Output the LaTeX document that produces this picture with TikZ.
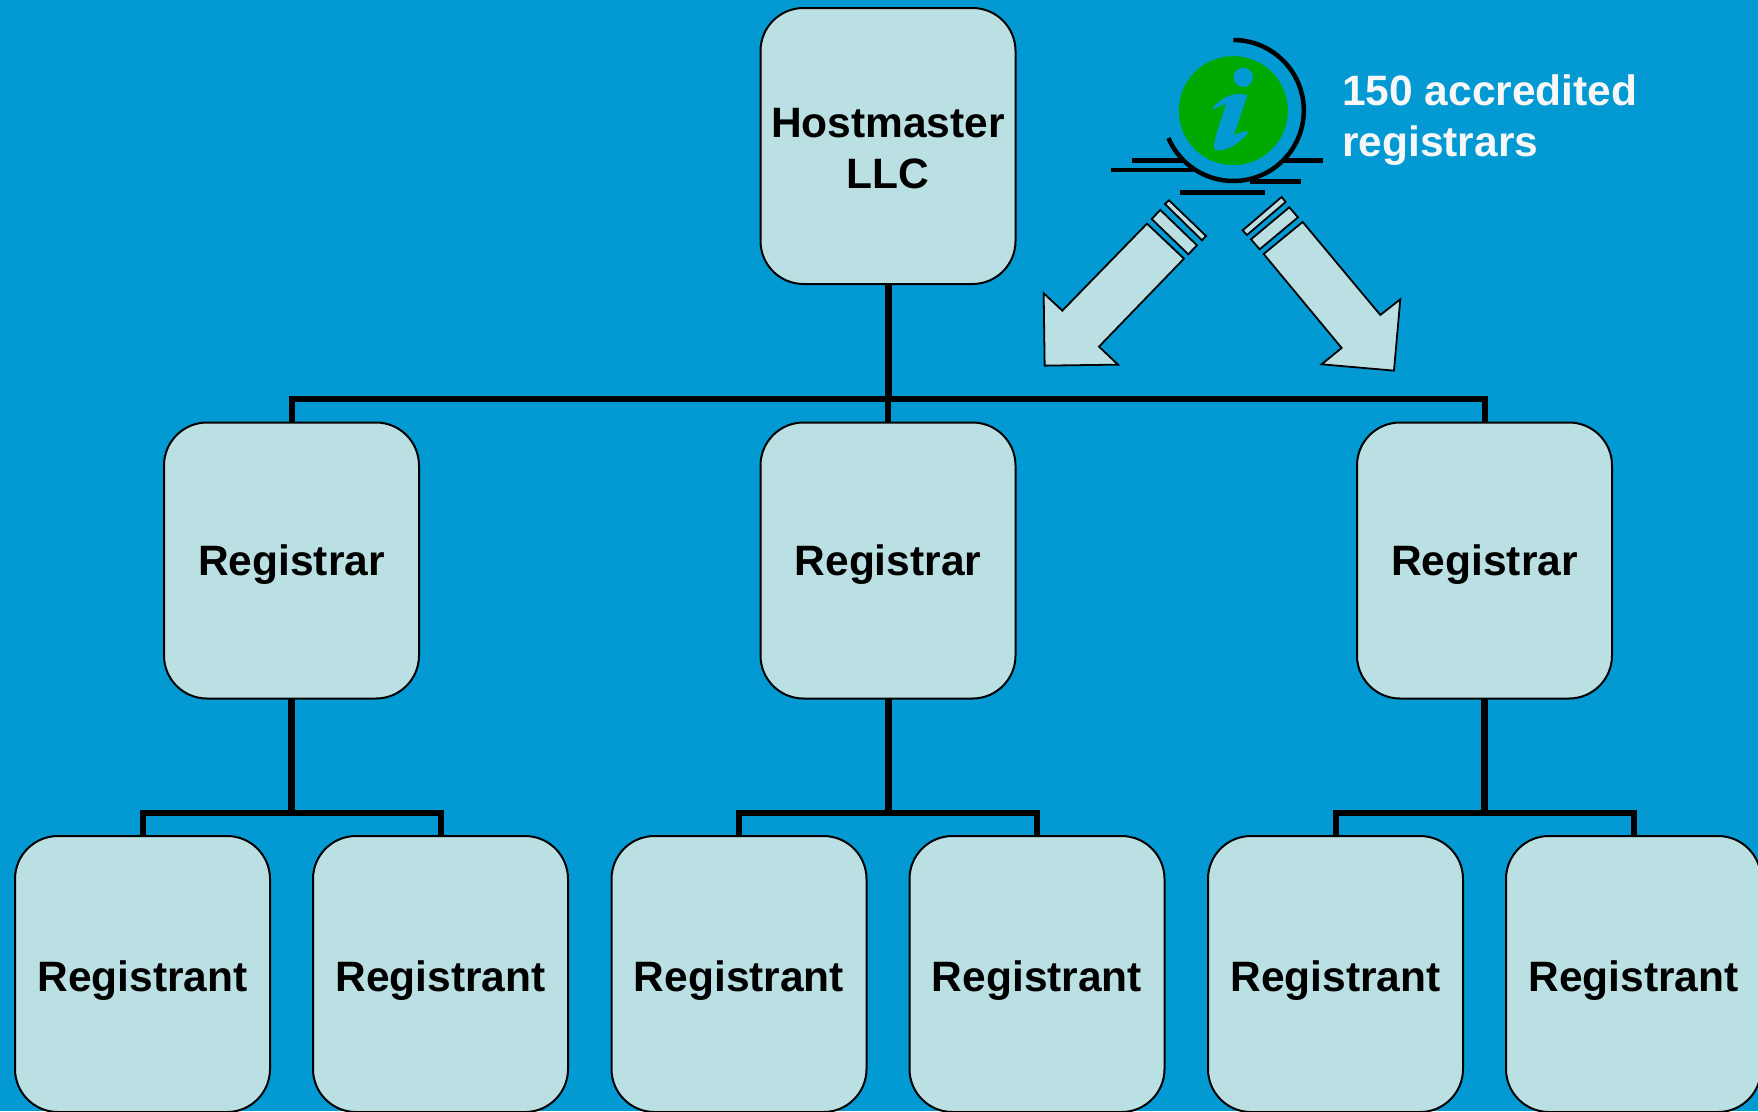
\documentclass[tikz,border=0pt]{standalone}
\usepackage{fontspec}
\setmainfont{Liberation Sans}
\usetikzlibrary{%
	positioning,
	calc
}
\definecolor{slide}{HTML}{039AD3}
\definecolor{boxfill}{HTML}{BBE0E3}
\definecolor{infogreen}{HTML}{00A900}

\begin{document}
\begin{tikzpicture}[
		x=1pt,y=-1pt,
		RBox/.style={draw=black,line width=2pt,fill=boxfill,rounded corners=43pt,minimum width=255pt,minimum height=276pt,inner sep=0pt,outer sep=0pt,align=center,text height=30pt,text depth=0pt,font=\bfseries\fontsize{42.5}{51}\selectfont},
		Trunk/.style={draw=black,line width=7pt},
		Bus/.style={draw=black,line width=6pt},
		Block/.style={draw=black,line width=1.8pt,fill=boxfill,line join=miter},
		Ring/.style={draw=black,line width=4.5pt}
	]
	
	\useasboundingbox (0,0) rectangle (1758,1111);
	\clip (0,0) rectangle (1758,1111);
	\fill[slide] (0,0) rectangle (1758,1111);
	
	% tree
	\node(Root) [RBox, text height=84pt] at (888,146) {Hostmaster\\LLC};
	\node(Registrar2) [RBox, below=138.5pt of Root] {Registrar};
	\node(Registrar1) [RBox, left=341.5pt of Registrar2] {Registrar};
	\node(Registrar3) [RBox, right=341.5pt of Registrar2] {Registrar};
	
	\foreach \r in {1,2,3}{
		\node(Registrant\r a) [RBox, text height=34pt, below=137.5pt of Registrar\r, xshift=-149pt] {Registrant};
		\node(Registrant\r b) [RBox, text height=34pt, right=43pt of Registrant\r a] {Registrant};
		\draw[Trunk] (Registrar\r.south) -- ++(0,114.5) coordinate (bus\r);
		\draw[Bus] (Registrant\r a.north) |- (bus\r) -| (Registrant\r b.north);
	}
	
	\draw[Trunk] (Root.south) -- ++(0,114.5) coordinate (top);
	\draw[Bus] (top) -- (Registrar2.north);
	\draw[Bus] (Registrar1.north) |- (top) -| (Registrar3.north);
	
	% info icon
	\node(Note) [anchor=base west, align=left, text=white!97!black, inner sep=0pt, font=\bfseries\fontsize{42.5}{51}\selectfont] at (1342,156) {150 accredited\\registrars};
	\begin{scope}[shift={(1020,20)},x=0.3333pt,y=-0.3333pt]
		\fill[infogreen] (640,272) circle [radius=163.5];
		\draw[Ring] (640,60) arc [start angle=-90,end angle=157,radius=211.5];
		\fill[slide] (670,172) circle [radius=29];
		\fill[slide] (575,268) .. controls (600,235) and (640,212) .. (682,226) -- (642,345) .. controls (660,340) and (675,330) .. (686,336) .. controls (660,370) and (620,395) .. (588,391) .. controls (575,385) and (580,370) .. (618,252) .. controls (605,255) and (590,265) .. (575,268) -- cycle;
		\draw[Ring] (335,421) -- (490,421);
		\draw[Ring] (790,421) -- (908,421);
		\draw[Ring] (273,450) -- (520,450);
		\draw[Ring] (690,484) -- (842,484);
		\draw[Ring, line width=5.5pt] (480,517) -- (735,517);
		
		% left arrow
		\draw[Block] (381,611) -- (492,716) -- (237,980) -- (294,1034) -- (74,1037) -- (71,820) -- (127,872) -- cycle;
		\draw[Block] (421,570) -- (531,676) -- (505,703) -- (395,597) -- cycle;
		\draw[Block] (447,541) -- (558,648) -- (546,661) -- (435,552) -- cycle;
		
		% right arrow
		\draw[Block] (848,606) -- (1081,885) -- (1141,838) -- (1122,1052) -- (905,1033) -- (965,984) -- (731,702) -- cycle;
		\draw[Block] (808,562) -- (834,592) -- (719,688) -- (693,658) -- cycle;
		\draw[Block] (785,531) -- (797,546) -- (681,645) -- (668,631) -- cycle;
	\end{scope}
	
\end{tikzpicture}
\end{document}
